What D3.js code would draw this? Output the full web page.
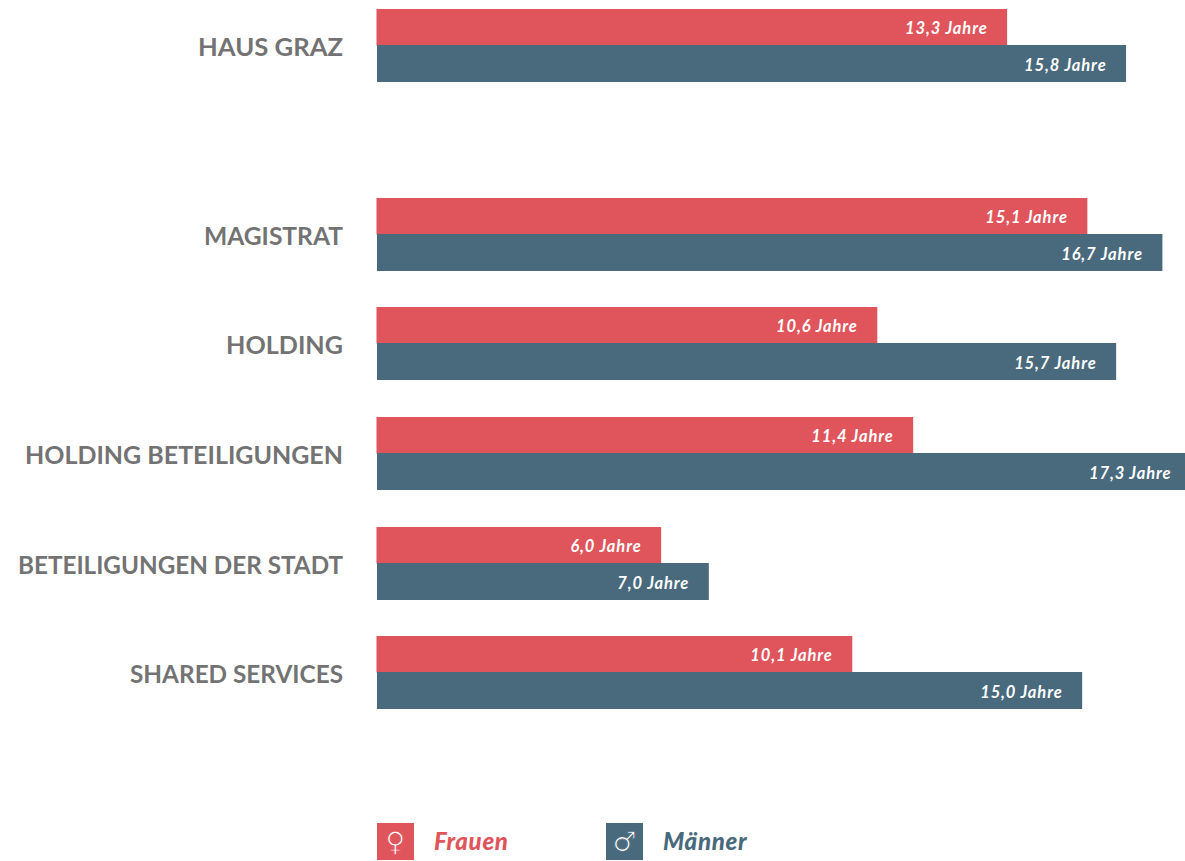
<!DOCTYPE html>
<html>
    <head>
        <meta charset="utf-8">
        <title>Dienstjahre Frauen und Männer</title>
        <script src="https://d3js.org/d3.v7.min.js"></script>
        <style>
            html, body {margin:0; padding:0; background:#fff; overflow:hidden;}
            svg {display:block;}
            text {font-family:Lato, "Open Sans", sans-serif;}
            .cat {fill:#737373; font-size:25px; font-weight:700; text-anchor:end;}
            .val {fill:#fff; font-size:16.5px; font-weight:700; font-style:italic; text-anchor:end; letter-spacing:0.9px;}
            .leg {font-size:24px; font-weight:900; font-style:italic; letter-spacing:0.7px;}
        </style>
    </head>
    <body>
        <svg id="chart" width="1185" height="861"></svg>

        <script>
            "use strict";

            const categories = ["HAUS GRAZ", "MAGISTRAT", "HOLDING", "HOLDING BETEILIGUNGEN", "BETEILIGUNGEN DER STADT", "SHARED SERVICES"];
            // printed labels
            const frauenLabels = ["13,3 Jahre", "15,1 Jahre", "10,6 Jahre", "11,4 Jahre", "6,0 Jahre", "10,1 Jahre"];
            const maennerLabels = ["15,8 Jahre", "16,7 Jahre", "15,7 Jahre", "17,3 Jahre", "7,0 Jahre", "15,0 Jahre"];
            // bar lengths in years
            const frauen = [13.35, 15.05, 10.6, 11.36, 6.02, 10.07];
            const maenner = [15.87, 16.64, 15.66, 17.3, 7.03, 14.94];
            const legendNames = ["Frauen", "Männer"];
            const legendSymbols = ["♀", "♂"];

            const red = "#df555b";
            const blue = "#496a7d";

            const svg = d3.select("#chart");

            const x = d3.scaleLinear().domain([0, 1]).range([377, 424.2]);
            // first row stands apart from the others
            const y = d3.scaleOrdinal().domain(categories).range([9, 198, 307, 417, 527, 636]);
            // label widths, the fallback font runs wider or narrower per label
            const labelWidth = d3.scaleOrdinal().domain(categories).range([145, 139, 117, 318, 325, 213]);

            const rows = svg.selectAll("g.row")
                .data(categories)
                .enter().append("g")
                .attr("class", "row")
                .attr("transform", d => `translate(0,${y(d)})`);

            rows.append("rect")
                .attr("x", x(0) - 0.5)
                .attr("y", 0)
                .attr("width", (d, i) => x(frauen[i]) - x(0) + 0.5)
                .attr("height", 36.5)
                .attr("fill", red);

            rows.append("rect")
                .attr("x", x(0))
                .attr("y", 36)
                .attr("width", (d, i) => x(maenner[i]) - x(0))
                .attr("height", 37)
                .attr("fill", blue);

            rows.append("text")
                .attr("class", "cat")
                .attr("x", 343)
                .attr("y", 47)
                .attr("textLength", d => labelWidth(d))
                .attr("lengthAdjust", "spacingAndGlyphs")
                .text(d => d);

            rows.append("text")
                .attr("class", "val")
                .attr("x", (d, i) => x(frauen[i]) - 19.5)
                .attr("y", 25)
                .text((d, i) => frauenLabels[i]);

            rows.append("text")
                .attr("class", "val")
                .attr("x", (d, i) => Math.min(x(maenner[i]), 1191) - 19.5)
                .attr("y", 61.5)
                .text((d, i) => maennerLabels[i]);

            // legend
            const legendX = d3.scaleOrdinal().domain(legendNames).range([377, 606]);
            const legendColor = d3.scaleOrdinal().domain(legendNames).range([red, blue]);

            const legend = svg.selectAll("g.legend")
                .data(legendNames)
                .enter().append("g")
                .attr("class", "legend")
                .attr("transform", d => `translate(${legendX(d)},823)`);

            legend.append("rect")
                .attr("width", 37)
                .attr("height", 37)
                .attr("fill", d => legendColor(d));

            // stroke in the box colour thins the glyph down
            legend.append("text")
                .attr("x", 18.5)
                .attr("y", 28)
                .attr("text-anchor", "middle")
                .attr("fill", "#fff")
                .attr("stroke", d => legendColor(d))
                .attr("stroke-width", 0.9)
                .style("font-family", "'DejaVu Sans'")
                .style("font-size", "27px")
                .text((d, i) => legendSymbols[i]);

            legend.append("text")
                .attr("class", "leg")
                .attr("x", 57)
                .attr("y", 27)
                .attr("fill", d => legendColor(d))
                .text(d => d);
        </script>
    </body>
</html>
